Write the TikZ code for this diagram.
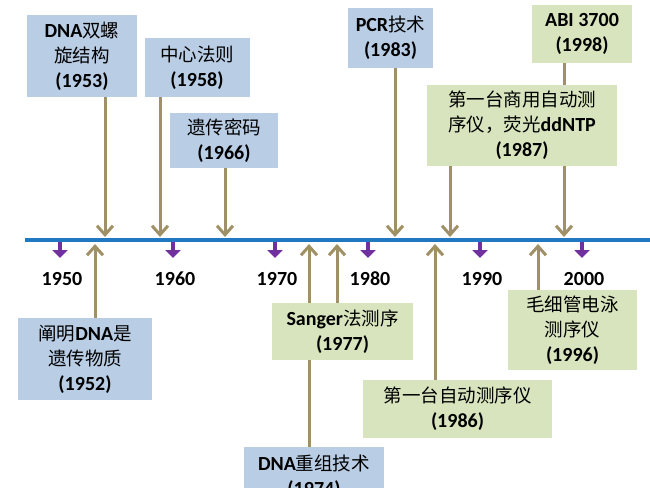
\documentclass[tikz,border=0pt]{standalone}
\usepackage{fontspec}
\setmainfont{Carlito}
\newfontfamily\cjk{Noto Sans CJK SC}[BoldFont={Noto Sans CJK SC}]
\newcommand{\zh}[1]{{\cjk\mdseries\fontsize{18.5}{24}\selectfont #1}}
\usetikzlibrary{arrows.meta}
\definecolor{bluebox}{HTML}{B9CDE5}
\definecolor{greenbox}{HTML}{D7E4BD}
\definecolor{olive}{HTML}{A09066}
\definecolor{axis}{HTML}{1F78C1}
\definecolor{purp}{HTML}{7030A0}
\begin{document}
\begin{tikzpicture}[x=1pt,y=-1pt,
  box/.style={inner sep=0pt,align=center,font=\fontsize{20}{25}\selectfont\bfseries},
  bbox/.style={box,fill=bluebox},
  gbox/.style={box,fill=greenbox},
  conn/.style={olive,line width=3pt,-{Straight Barb[length=9pt,width=16pt,line width=3pt]}},
  tick/.style={purp,line width=4.5pt,-{Triangle[length=8pt,width=15pt]}},
  yr/.style={font=\fontsize{20}{22}\selectfont\bfseries}]
\useasboundingbox (0,0) rectangle (650,487);
% axis
\coordinate (a0) at (25,240);
\coordinate (a1) at (650,240);
\draw[axis,line width=3.5pt] (a0) -- (a1);
\foreach \x/\y in {60/1950,173/1960,275/1970,368/1980,480/1990,582/2000}{
  \coordinate (t\y) at (\x,242);
  \coordinate (u\y) at (\x,258);
  \draw[tick] (t\y) -- (u\y);
  \node[yr] (l\y) at (\x+2,279) {\y};
}
\foreach \n/\x in {c53/105,c58/160,c66/225,c83/395,c98/564,c87/450,c52/95,c74/309,c77/337,c86/435,c96/538}{
  \coordinate (\n) at (\x,237);
  \coordinate (\n d) at (\x,244);
}
\node[bbox,minimum width=110pt,minimum height=82pt] (b53) at (82,56) {DNA\zh{双螺}\\\zh{旋结构}\\(1953)};
\node[bbox,minimum width=105pt,minimum height=59pt] (b58) at (197,67.5) {\zh{中心法则}\\(1958)};
\node[bbox,minimum width=108pt,minimum height=55pt] (b66) at (224,140.5) {\zh{遗传密码}\\(1966)};
\node[bbox,minimum width=85pt,minimum height=60pt] (b83) at (390.5,38) {PCR\zh{技术}\\(1983)};
\node[gbox,minimum width=100pt,minimum height=58pt] (b98) at (582,34) {ABI 3700\\(1998)};
\node[gbox,minimum width=190pt,minimum height=81pt] (b87) at (522,125.5) {\zh{第一台商用自动测}\\\zh{序仪，荧光}ddNTP\\(1987)};
\node[bbox,minimum width=134pt,minimum height=82pt] (b52) at (85,359) {\zh{阐明}DNA\zh{是}\\\zh{遗传物质}\\(1952)};
\node[gbox,minimum width=141pt,minimum height=57pt] (b77) at (342.5,331.5) {Sanger\zh{法测序}\\(1977)};
\node[bbox,minimum width=140pt,minimum height=60pt,anchor=north] (b74) at (314,447) {DNA\zh{重组技术}\\(1974)};
\node[gbox,minimum width=189pt,minimum height=58pt] (b86) at (457.5,409) {\zh{第一台自动测序仪}\\(1986)};
\node[gbox,minimum width=129pt,minimum height=80pt] (b96) at (572.5,330) {\zh{毛细管电泳}\\\zh{测序仪}\\(1996)};
% connectors
\draw[conn] (b53.south -| c53) -- (c53);
\draw[conn] (b58.south -| c58) -- (c58);
\draw[conn] (b66.south -| c66) -- (c66);
\draw[conn] (b83.south -| c83) -- (c83);
\draw[olive,line width=3pt] (b98.south -| c98) -- (b87.north -| c98);
\draw[conn] (b87.south -| c98) -- (c98);
\draw[conn] (b87.south -| c87) -- (c87);
\draw[conn] (b52.north -| c52) -- (c52d);
\draw[olive,line width=3pt] (b74.north -| c74) -- (b77.south -| c74);
\draw[conn] (b77.north -| c74) -- (c74d);
\draw[conn] (b77.north -| c77) -- (c77d);
\draw[conn] (b86.north -| c86) -- (c86d);
\draw[conn] (b96.north -| c96) -- (c96d);
\end{tikzpicture}
\end{document}
